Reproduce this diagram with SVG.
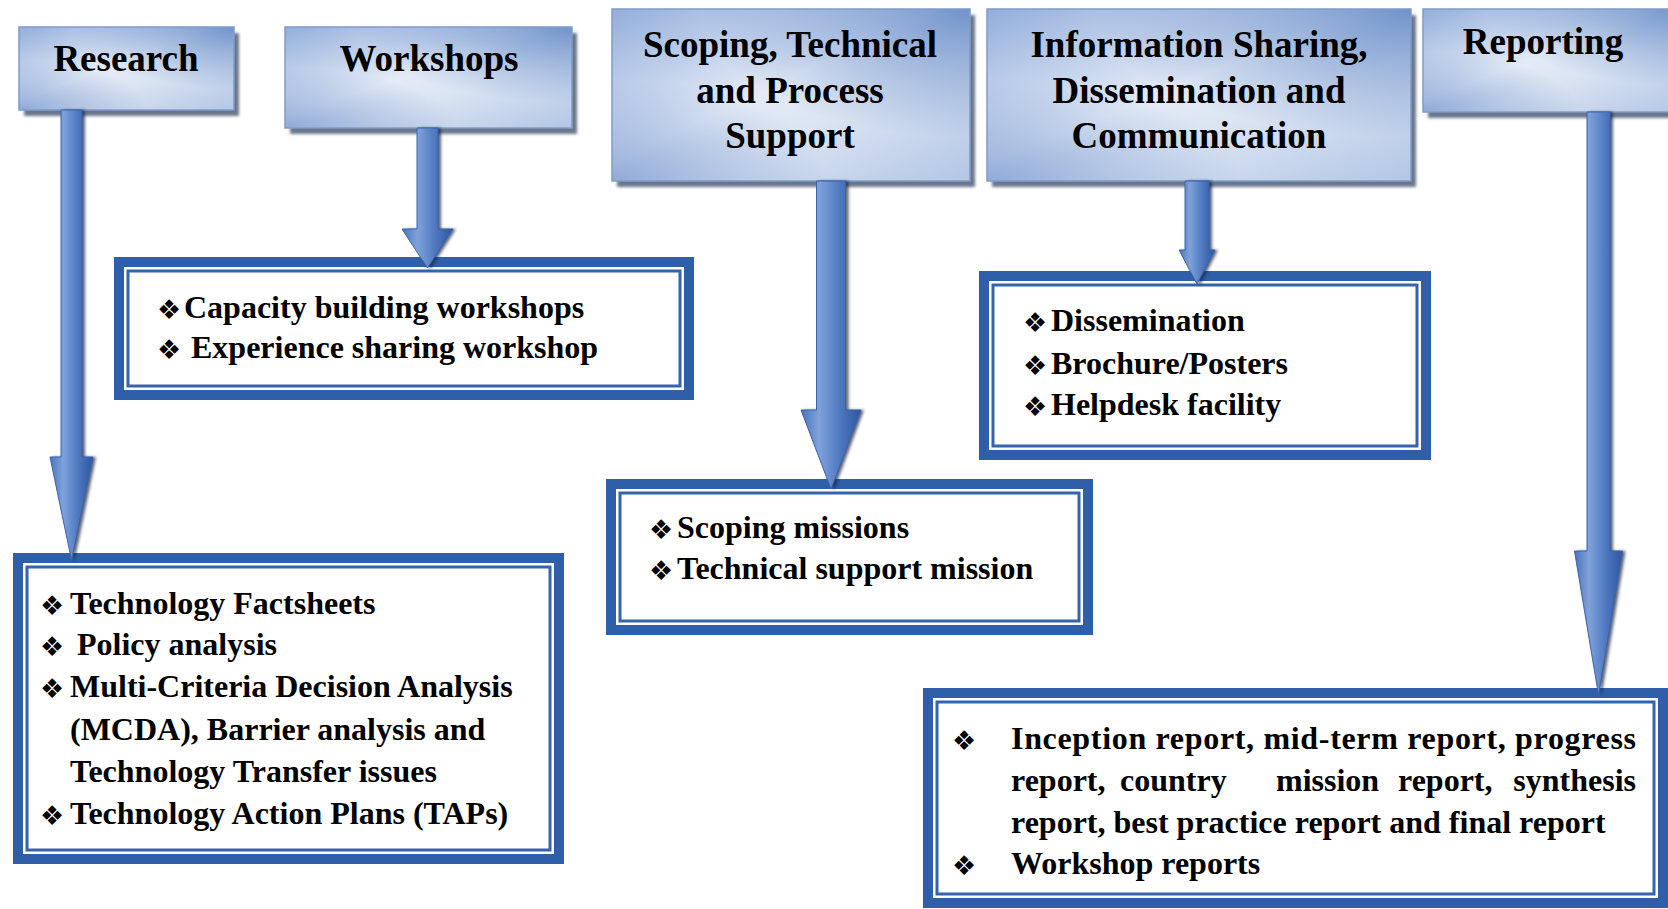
<svg xmlns="http://www.w3.org/2000/svg" width="1668" height="909" viewBox="0 0 1668 909">
  <defs>
    <!-- header card fill: diagonal blue/white sheen -->
    <linearGradient id="hdrFill" x1="0" y1="0" x2="1" y2="1">
      <stop offset="0" stop-color="#93aedb"/>
      <stop offset="0.45" stop-color="#e4ebf6"/>
      <stop offset="0.62" stop-color="#dbe4f2"/>
      <stop offset="1" stop-color="#b3c6e5"/>
    </linearGradient>
    <radialGradient id="hdrCorner" cx="1" cy="0" r="0.75">
      <stop offset="0" stop-color="#5d84c4" stop-opacity="0.85"/>
      <stop offset="1" stop-color="#5d84c4" stop-opacity="0"/>
    </radialGradient>
    <radialGradient id="hdrCornerBL" cx="0" cy="1" r="0.6">
      <stop offset="0" stop-color="#6d8fcb" stop-opacity="0.7"/>
      <stop offset="1" stop-color="#6d8fcb" stop-opacity="0"/>
    </radialGradient>
    <!-- arrow body shading -->
    <linearGradient id="arrowFill" x1="0" y1="0" x2="1" y2="0">
      <stop offset="0" stop-color="#4a73bb"/>
      <stop offset="0.3" stop-color="#7fa2da"/>
      <stop offset="0.65" stop-color="#4f78c0"/>
      <stop offset="1" stop-color="#2c56a2"/>
    </linearGradient>
    <filter id="soft" x="-20%" y="-20%" width="140%" height="140%">
      <feGaussianBlur stdDeviation="1.6"/>
    </filter>
    <style>
      .hdr { stroke: #7f9cc9; stroke-width: 1.5; }
      .hdrShadow { fill: #6b778a; }
      .hdrText { font-family: "Liberation Serif", "Times New Roman", serif; font-weight: bold; font-size: 37px; fill: #000; text-anchor: middle; }
      .frameOuter { fill: #ffffff; stroke: #2f5fa9; stroke-width: 10; }
      .frameInner { fill: none; stroke: #3464ad; stroke-width: 3; }
      .item { font-family: "Liberation Serif", "Times New Roman", serif; font-weight: bold; font-size: 32px; fill: #000; }
      .bullet { font-family: "DejaVu Sans", sans-serif; font-size: 27px; fill: #000; }
      .arrow { fill: url(#arrowFill); stroke: #3b63ab; stroke-width: 1; }
      .arrowShadow { fill: #15223d; opacity: 0.7; }
    </style>
  </defs>

  <rect width="1668" height="909" fill="#ffffff"/>

  <!-- header cards -->
  <g id="research">
    <rect class="hdrShadow" x="24" y="33" width="215" height="83" filter="url(#soft)"/>
    <rect x="19" y="27" width="215" height="83" fill="url(#hdrFill)"/>
    <rect x="19" y="27" width="215" height="83" fill="url(#hdrCorner)"/>
    <rect class="hdr" x="19" y="27" width="215" height="83" fill="url(#hdrCornerBL)"/>
    <text class="hdrText" x="126" y="71">Research</text>
  </g>

  <g id="workshops">
    <rect class="hdrShadow" x="290" y="33" width="287" height="101" filter="url(#soft)"/>
    <rect x="285" y="27" width="287" height="101" fill="url(#hdrFill)"/>
    <rect x="285" y="27" width="287" height="101" fill="url(#hdrCorner)"/>
    <rect class="hdr" x="285" y="27" width="287" height="101" fill="url(#hdrCornerBL)"/>
    <text class="hdrText" x="429" y="71">Workshops</text>
  </g>

  <g id="scoping">
    <rect class="hdrShadow" x="617" y="15" width="358" height="172" filter="url(#soft)"/>
    <rect x="612" y="9" width="358" height="172" fill="url(#hdrFill)"/>
    <rect x="612" y="9" width="358" height="172" fill="url(#hdrCorner)"/>
    <rect class="hdr" x="612" y="9" width="358" height="172" fill="url(#hdrCornerBL)"/>
    <text class="hdrText" x="790" y="57">Scoping, Technical</text>
    <text class="hdrText" x="790" y="103">and Process</text>
    <text class="hdrText" x="790" y="148">Support</text>
  </g>

  <g id="info-sharing">
    <rect class="hdrShadow" x="992" y="15" width="424" height="172" filter="url(#soft)"/>
    <rect x="987" y="9" width="424" height="172" fill="url(#hdrFill)"/>
    <rect x="987" y="9" width="424" height="172" fill="url(#hdrCorner)"/>
    <rect class="hdr" x="987" y="9" width="424" height="172" fill="url(#hdrCornerBL)"/>
    <text class="hdrText" x="1199" y="57">Information Sharing,</text>
    <text class="hdrText" x="1199" y="103">Dissemination and</text>
    <text class="hdrText" x="1199" y="148">Communication</text>
  </g>

  <g id="reporting">
    <rect class="hdrShadow" x="1428" y="15" width="260" height="103" filter="url(#soft)"/>
    <rect x="1423" y="9" width="260" height="103" fill="url(#hdrFill)"/>
    <rect x="1423" y="9" width="260" height="103" fill="url(#hdrCorner)"/>
    <rect class="hdr" x="1423" y="9" width="260" height="103" fill="url(#hdrCornerBL)"/>
    <text class="hdrText" x="1543" y="54">Reporting</text>
  </g>

  <!-- detail frames -->
  <g id="workshops-items">
    <rect class="frameOuter" x="119" y="262" width="570" height="133"/>
    <rect class="frameInner" x="128" y="271" width="552" height="115"/>
    <text class="bullet" x="157" y="319">❖</text>
    <text class="item" x="184" y="318">Capacity building workshops</text>
    <text class="bullet" x="157" y="359">❖</text>
    <text class="item" x="191" y="358">Experience sharing workshop</text>
  </g>

  <g id="research-items">
    <rect class="frameOuter" x="18" y="558" width="541" height="301"/>
    <rect class="frameInner" x="27" y="567" width="523" height="283"/>
    <text class="bullet" x="40" y="615">❖</text>
    <text class="item" x="70" y="614">Technology Factsheets</text>
    <text class="bullet" x="40" y="656">❖</text>
    <text class="item" x="77" y="655">Policy analysis</text>
    <text class="bullet" x="40" y="698">❖</text>
    <text class="item" x="70" y="697">Multi-Criteria Decision Analysis</text>
    <text class="item" x="70" y="740">(MCDA), Barrier analysis and</text>
    <text class="item" x="70" y="782">Technology Transfer issues</text>
    <text class="bullet" x="40" y="825">❖</text>
    <text class="item" x="70" y="824">Technology Action Plans (TAPs)</text>
  </g>

  <g id="scoping-items">
    <rect class="frameOuter" x="611" y="484" width="477" height="146"/>
    <rect class="frameInner" x="620" y="493" width="459" height="128"/>
    <text class="bullet" x="649" y="539">❖</text>
    <text class="item" x="677" y="538">Scoping missions</text>
    <text class="bullet" x="649" y="580">❖</text>
    <text class="item" x="677" y="579">Technical support mission</text>
  </g>

  <g id="info-items">
    <rect class="frameOuter" x="984" y="276" width="442" height="179"/>
    <rect class="frameInner" x="993" y="285" width="424" height="161"/>
    <text class="bullet" x="1023" y="332">❖</text>
    <text class="item" x="1051" y="331">Dissemination</text>
    <text class="bullet" x="1023" y="375">❖</text>
    <text class="item" x="1051" y="374">Brochure/Posters</text>
    <text class="bullet" x="1023" y="416">❖</text>
    <text class="item" x="1051" y="415">Helpdesk facility</text>
  </g>

  <g id="reporting-items">
    <rect class="frameOuter" x="928" y="693" width="735" height="210"/>
    <rect class="frameInner" x="937" y="702" width="717" height="192"/>
    <text class="bullet" x="952" y="750">❖</text>
    <text class="item" x="1011" y="749" textLength="625" lengthAdjust="spacing">Inception report, mid-term report, progress</text>
    <text class="item" y="791"><tspan x="1011">report,</tspan><tspan x="1120">country</tspan><tspan x="1276">mission</tspan><tspan x="1398">report,</tspan></text>
    <text class="item" x="1636" y="791" text-anchor="end">synthesis</text>
    <text class="item" x="1011" y="833">report, best practice report and final report</text>
    <text class="bullet" x="952" y="875">❖</text>
    <text class="item" x="1011" y="874">Workshop reports</text>
  </g>

  <!-- block arrows from each header down to its frame -->
  <g id="connectors">
    <g class="arrowShadow" filter="url(#soft)">
      <path d="M64,110 L85,110 L85,457 L96,457 L74.5,561 L53,457 L64,457 Z"/>
      <path d="M420,128 L441,128 L441,229 L456,229 L430.5,269 L405,229 L420,229 Z"/>
      <path d="M819.5,181 L848.5,181 L848.5,410 L864,410 L834,490 L804,410 L819.5,410 Z"/>
      <path d="M1188,181 L1212,181 L1212,250 L1218,250 L1200,285 L1182,250 L1188,250 Z"/>
      <path d="M1590,112 L1613,112 L1613,551 L1625.5,551 L1601.5,696 L1577.5,551 L1590,551 Z"/>
    </g>
    <path class="arrow" d="M61,110 L82,110 L82,457 L93,457 L71.5,560 L50,457 L61,457 Z"/>
    <path class="arrow" d="M417,128 L438,128 L438,229 L453,229 L427.5,268 L402,229 L417,229 Z"/>
    <path class="arrow" d="M816.5,181 L845.5,181 L845.5,410 L861,410 L831,489 L801,410 L816.5,410 Z"/>
    <path class="arrow" d="M1185,181 L1209,181 L1209,250 L1215,250 L1197,284 L1179,250 L1185,250 Z"/>
    <path class="arrow" d="M1587,112 L1610,112 L1610,551 L1622.5,551 L1598.5,695 L1574.5,551 L1587,551 Z"/>
  </g>
</svg>
